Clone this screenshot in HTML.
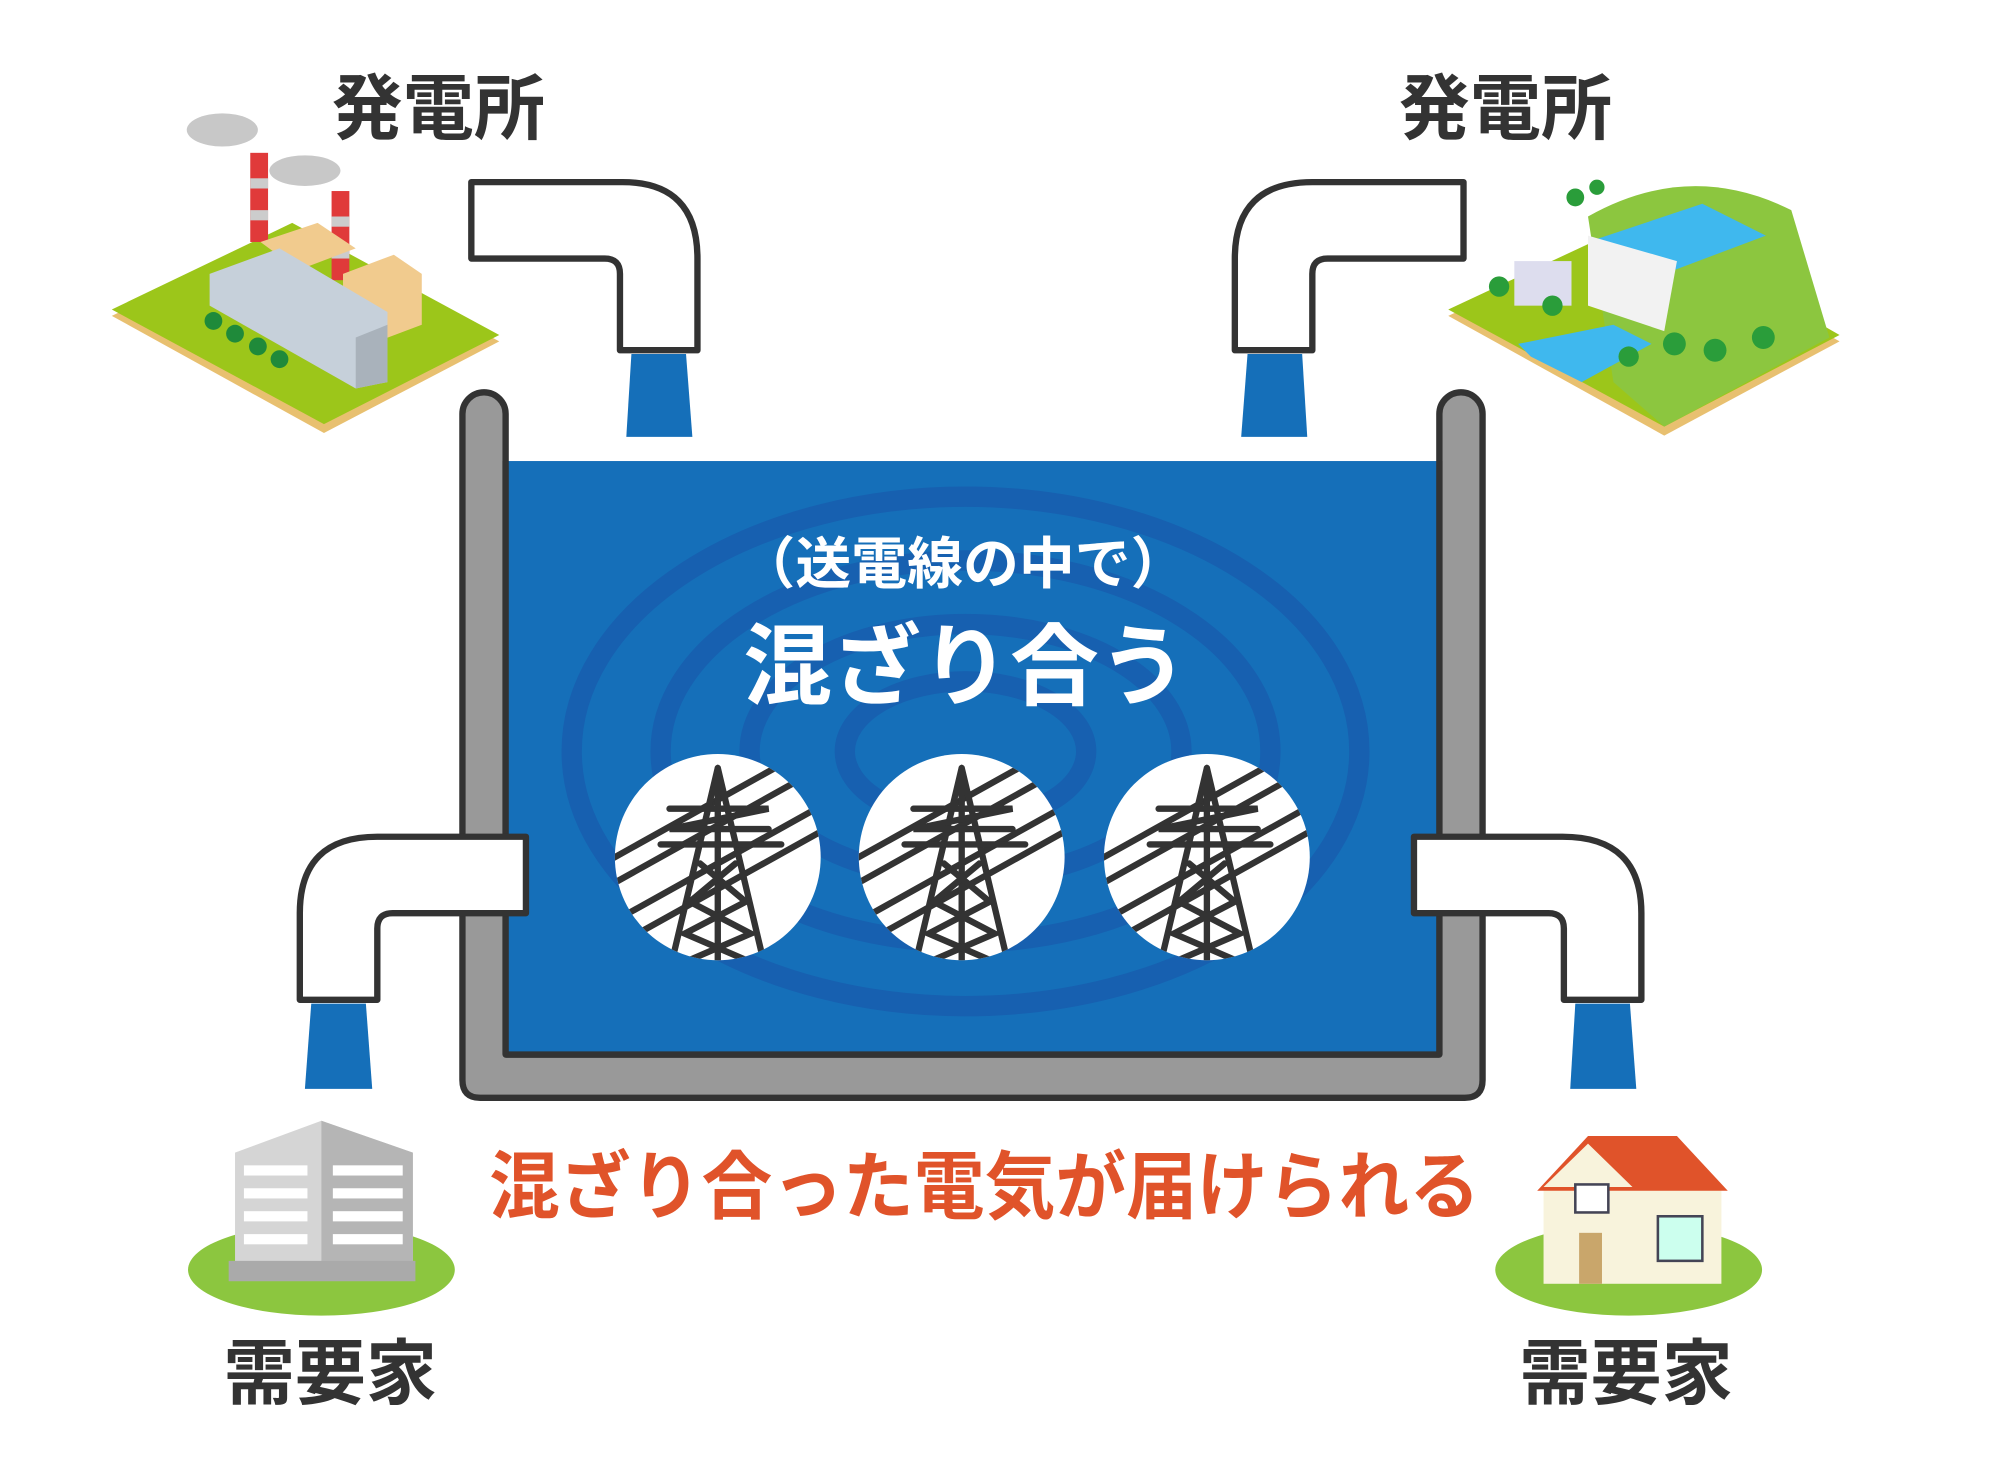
<!DOCTYPE html>
<html><head><meta charset="utf-8"><style>
html,body{margin:0;padding:0;background:#fff;}
svg{display:block;}
text{font-family:"Liberation Sans","Noto Sans CJK JP",sans-serif;font-weight:bold;}
</style></head><body>
<svg width="1992" height="1471" viewBox="0 0 1568 1155" preserveAspectRatio="none" xmlns="http://www.w3.org/2000/svg">
<defs>
<clipPath id="cc"><circle cx="0" cy="0" r="81"/></clipPath>
<clipPath id="tank"><rect x="398" y="362" width="735" height="466"/></clipPath>
<g id="tower">
 <circle cx="0" cy="0" r="81" fill="#fff"/>
 <g clip-path="url(#cc)" stroke="#333" stroke-width="5" fill="none" stroke-linecap="round">
  <line x1="-90" y1="5" x2="90" y2="-95"/>
  <line x1="-90" y1="25" x2="90" y2="-75"/>
  <line x1="-90" y1="55" x2="90" y2="-45"/>
  <line x1="-90" y1="75" x2="90" y2="-25"/>
  <path d="M0,-70 L-38,90 M0,-70 L38,90 M0,-70 V90"/>
  <path d="M-38,-38 H40 L-38,-22 H40 M-45,-10 H50"/>
  <path d="M-14,5 L22,35 L-26,60 L32,85 M14,5 L-22,35 L26,60 L-32,85"/>
 </g>
</g>
</defs>

<text x="345" y="105" font-size="56" fill="#333" text-anchor="middle">発電所</text>
<text x="1185" y="105" font-size="56" fill="#333" text-anchor="middle">発電所</text>
<text x="260" y="1098" font-size="56" fill="#333" text-anchor="middle">需要家</text>
<text x="1280" y="1098" font-size="56" fill="#333" text-anchor="middle">需要家</text>

<!-- factory -->
<polygon points="88,248 255,340 393,268 230,180" fill="#e8c070"/>
<polygon points="88,243 255,333 393,263 230,175" fill="#9cc61a"/>
<ellipse cx="175" cy="102" rx="28" ry="13" fill="#c8c8c8"/>
<ellipse cx="240" cy="134" rx="28" ry="12" fill="#c8c8c8"/>
<rect x="197" y="120" width="14" height="70" fill="#e03a3a"/>
<rect x="197" y="140" width="14" height="8" fill="#ccc"/><rect x="197" y="165" width="14" height="8" fill="#ccc"/>
<rect x="261" y="150" width="14" height="70" fill="#e03a3a"/>
<rect x="261" y="170" width="14" height="8" fill="#ccc"/><rect x="261" y="195" width="14" height="8" fill="#ccc"/>
<polygon points="205,190 250,175 280,195 235,212" fill="#f1cb8e"/>
<polygon points="270,215 310,200 332,215 332,255 292,270 270,255" fill="#f1cb8e"/>
<polygon points="165,215 220,195 305,245 305,300 280,305 165,240" fill="#c6d0da"/>
<polygon points="280,265 305,255 305,300 280,305" fill="#a9b2bb"/>
<circle cx="168" cy="252" r="7" fill="#1f8a3a"/><circle cx="185" cy="262" r="7" fill="#1f8a3a"/><circle cx="203" cy="272" r="7" fill="#1f8a3a"/><circle cx="220" cy="282" r="7" fill="#1f8a3a"/>

<!-- dam -->
<polygon points="1140,248 1310,342 1448,268 1290,178" fill="#e8c070"/>
<polygon points="1140,243 1310,335 1448,263 1290,173" fill="#9cc61a"/>
<path d="M1250,170 Q1330,125 1410,165 L1440,265 L1310,335 L1270,300 Z" fill="#8cc63f"/>
<polygon points="1250,190 1340,160 1390,185 1310,215" fill="#3fb8ee"/>
<polygon points="1250,185 1320,205 1310,260 1250,240" fill="#f2f2f2"/>
<polygon points="1195,270 1270,255 1300,270 1245,300 1205,280" fill="#3fb8ee"/>
<rect x="1192" y="205" width="45" height="35" fill="#dde"/>
<circle cx="1240" cy="155" r="7" fill="#2a9d3a"/><circle cx="1257" cy="147" r="6" fill="#2a9d3a"/>
<circle cx="1180" cy="225" r="8" fill="#2a9d3a"/><circle cx="1222" cy="240" r="8" fill="#2a9d3a"/>
<circle cx="1282" cy="280" r="8" fill="#2a9d3a"/><circle cx="1318" cy="270" r="9" fill="#2a9d3a"/><circle cx="1350" cy="275" r="9" fill="#2a9d3a"/><circle cx="1388" cy="265" r="9" fill="#2a9d3a"/>

<!-- tank -->
<path d="M364,325 A17,17 0 0 1 398,325 V828 H1133 V325 A17,17 0 0 1 1167,325 V848 Q1167,862 1153,862 H378 Q364,862 364,848 Z" fill="#999" stroke="#333" stroke-width="5" stroke-linejoin="round"/>
<rect x="398" y="362" width="735" height="466" fill="#156fb9"/>
<g clip-path="url(#tank)" fill="none" stroke="#1760b0" stroke-width="16">
 <ellipse cx="760" cy="590" rx="310" ry="200"/>
 <ellipse cx="760" cy="590" rx="240" ry="150"/>
 <ellipse cx="760" cy="590" rx="170" ry="100"/>
 <ellipse cx="760" cy="590" rx="95" ry="55"/>
</g>
<path d="M398,828 H1133" stroke="#333" stroke-width="5"/>
<path d="M398,362 V828 M1133,362 V828" stroke="#333" stroke-width="5"/>

<polygon points="497,278 540,278 545,343 493,343" fill="#156fb9"/>
<polygon points="982,278 1025,278 1029,343 977,343" fill="#156fb9"/>
<polygon points="245,788 288,788 293,855 240,855" fill="#156fb9"/>
<polygon points="1240,788 1283,788 1288,855 1236,855" fill="#156fb9"/>

<g fill="#fff" stroke="#333" stroke-width="5" stroke-linejoin="round">
<path d="M371,143 H490 Q549,143 549,203 V275 H488 V215 Q488,203 476,203 H371 Z"/>
<path d="M1152,143 H1033 Q972,143 972,203 V275 H1033 V215 Q1033,203 1045,203 H1152 Z"/>
<path d="M414,657 H297 Q236,657 236,717 V785 H297 V729 Q297,717 309,717 H414 Z"/>
<path d="M1113,657 H1230 Q1292,657 1292,717 V785 H1231 V729 Q1231,717 1219,717 H1113 Z"/>
</g>

<text x="758" y="458" font-size="44" fill="#fff" text-anchor="middle" font-weight="normal">（送電線の中で）</text>
<text x="760" y="548" font-size="70" fill="#fff" text-anchor="middle">混ざり合う</text>

<use href="#tower" x="565" y="673"/>
<use href="#tower" x="757" y="673"/>
<use href="#tower" x="950" y="673"/>

<text x="775" y="952" font-size="58" fill="#e0532a" text-anchor="middle" textLength="780" lengthAdjust="spacingAndGlyphs">混ざり合った電気が届けられる</text>

<ellipse cx="253" cy="997" rx="105" ry="36" fill="#8cc63f"/>
<polygon points="185,905 253,880 325,905 325,1000 185,1000" fill="#d5d5d5"/>
<polygon points="253,880 325,905 325,1000 253,1000" fill="#b5b5b5"/>
<rect x="180" y="990" width="147" height="16" fill="#aaa"/>
<g fill="#fff">
<rect x="192" y="915" width="50" height="8"/><rect x="192" y="933" width="50" height="8"/><rect x="192" y="951" width="50" height="8"/><rect x="192" y="969" width="50" height="8"/>
<rect x="262" y="915" width="55" height="8"/><rect x="262" y="933" width="55" height="8"/><rect x="262" y="951" width="55" height="8"/><rect x="262" y="969" width="55" height="8"/>
</g>
<ellipse cx="1282" cy="997" rx="105" ry="36" fill="#8cc63f"/>
<rect x="1215" y="930" width="140" height="78" fill="#f8f3dc"/>
<polygon points="1210,935 1250,892 1320,892 1360,935" fill="#e0532a"/>
<polygon points="1215,932 1250,898 1285,932" fill="#f8f3dc"/>
<rect x="1243" y="968" width="18" height="40" fill="#c9a66b"/>
<rect x="1240" y="930" width="26" height="22" fill="#fff" stroke="#445" stroke-width="2"/>
<rect x="1305" y="955" width="35" height="35" fill="#cfe" stroke="#445" stroke-width="2"/>
</svg>
</body></html>
